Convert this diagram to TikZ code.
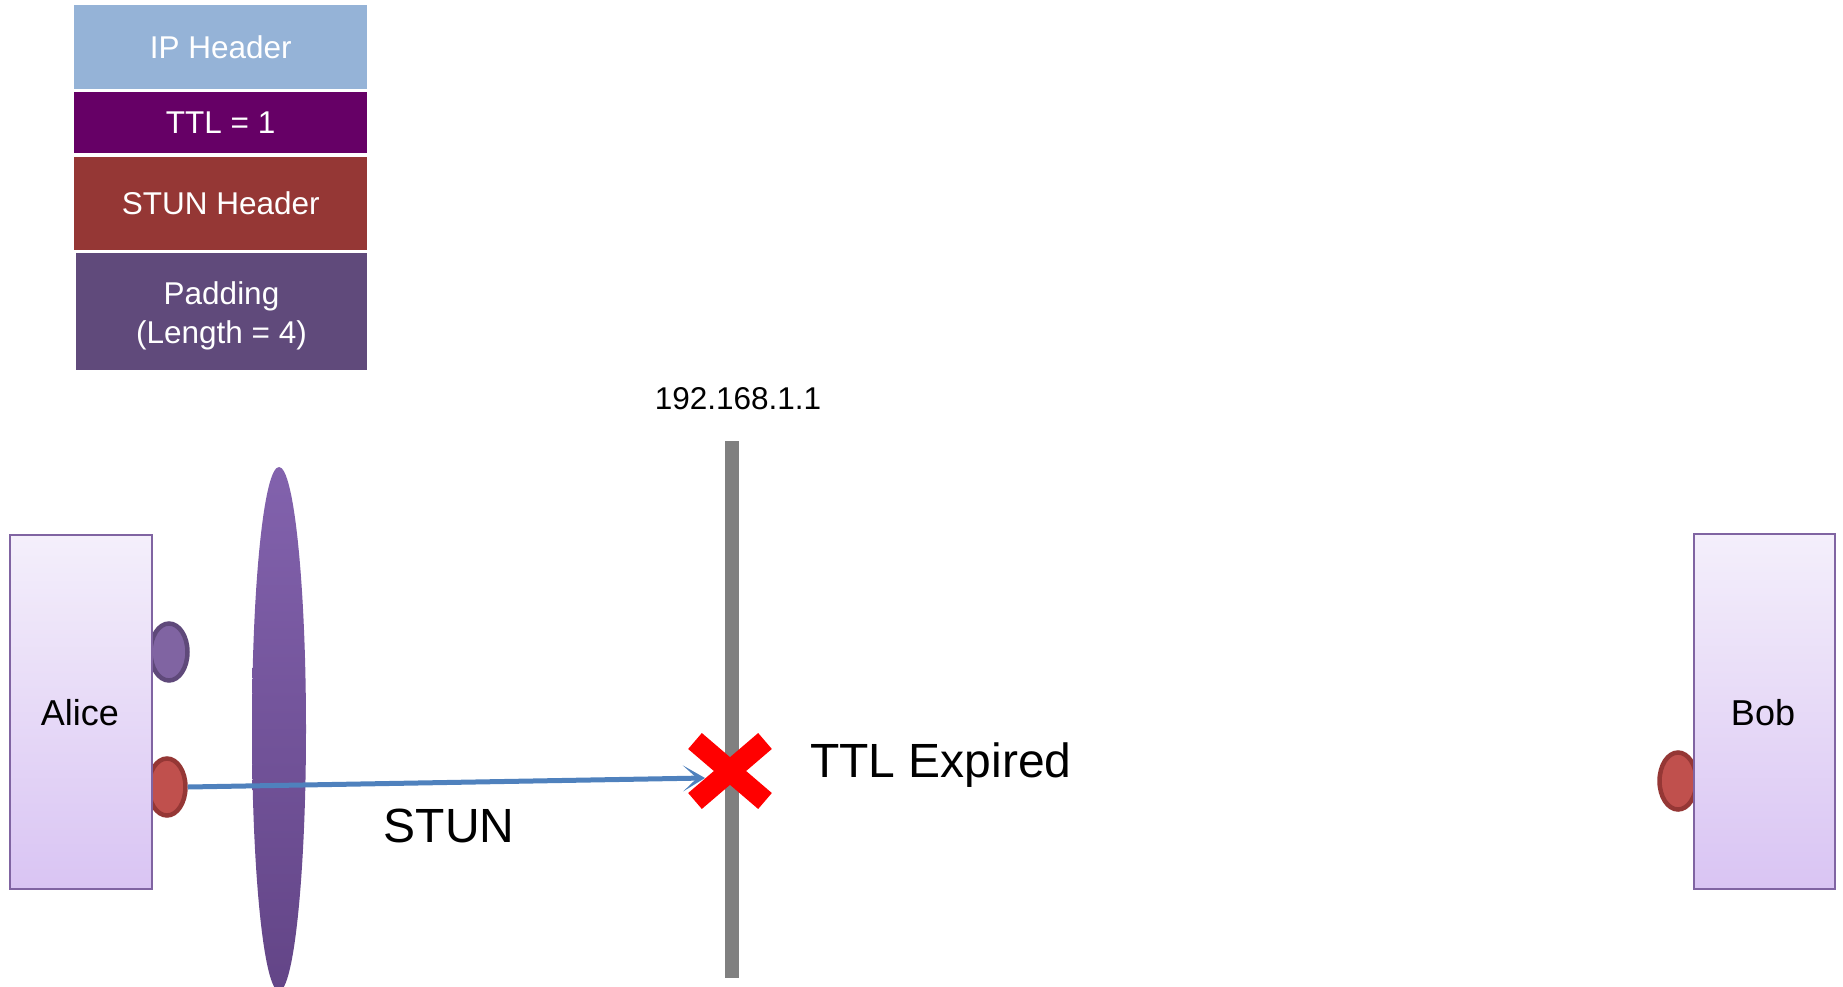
\documentclass[tikz,border=0pt]{standalone}
\usepackage{fontspec}
\setmainfont{Liberation Sans}
\usetikzlibrary{shapes.geometric,arrows.meta,calc}
\definecolor{ipblue}{HTML}{95B3D7}
\definecolor{ttlpurple}{HTML}{660066}
\definecolor{stunred}{HTML}{953735}
\definecolor{padpurple}{HTML}{604A7B}
\definecolor{hostborder}{HTML}{8064A2}
\definecolor{hosttop}{HTML}{F4EFFB}
\definecolor{hostbot}{HTML}{D9C4F3}
\definecolor{portpurple}{HTML}{8064A2}
\definecolor{portpurpleb}{HTML}{5F497A}
\definecolor{portred}{HTML}{C0504D}
\definecolor{portredb}{HTML}{953735}
\definecolor{arrowblue}{HTML}{4F81BD}
\definecolor{lenstop}{HTML}{8262AD}
\definecolor{lensbot}{HTML}{634587}
\definecolor{xred}{HTML}{FF0000}
\begin{document}
\begin{tikzpicture}[x=1pt,y=-1pt,
  hdr/.style={rectangle,inner sep=0,anchor=north west,text=white,align=center,
    font=\fontsize{31.5}{38}\selectfont},
  host/.style={rectangle,draw=hostborder,line width=1.5pt,top color=hosttop,bottom color=hostbot,
    inner sep=0,font=\fontsize{36}{40}\selectfont},
  port/.style={ellipse,inner sep=0,minimum width=37,minimum height=57,line width=4.5pt},
  lbl/.style={inner sep=0,font=\fontsize{48}{52}\selectfont}]
\useasboundingbox (0,0) rectangle (1843,987);
% header stack
\node[hdr,fill=ipblue,minimum width=293,minimum height=84] (ip) at (74,5) {\raisebox{-1pt}{IP Header}};
\node[hdr,fill=ttlpurple,minimum width=293,minimum height=61] (ttl) at (74,92) {\raisebox{-1pt}{TTL = 1}};
\node[hdr,fill=stunred,minimum width=293,minimum height=93] (stunh) at (74,157) {\raisebox{-1pt}{STUN Header}};
\node[hdr,fill=padpurple,minimum width=291,minimum height=117] (pad) at (76,253) {};
\node[inner sep=0,text=white,align=center,font=\fontsize{31.5}{39}\selectfont] (padtext) at (221.5,316) {Padding\\(Length = 4)};
% lens
\node[ellipse,inner sep=0,minimum width=54,minimum height=524,top color=lenstop,bottom color=lensbot] (lens) at (279,729) {};
% ports
\node[port,fill=portpurple,draw=portpurpleb] (aliceup) at (169,652) {};
\node[port,fill=portred,draw=portredb] (alicered) at (167,787) {};
\node[port,fill=portred,draw=portredb] (bobred) at (1678,781) {};
% hosts
\node[host,minimum width=142,minimum height=354] (alice) at (81,712) {};
\node[font=\fontsize{36}{40}\selectfont,inner sep=0] (alicel) at (80,713) {Alice};
\node[host,minimum width=141,minimum height=355] (bob) at (1764.5,711.5) {};
\node[font=\fontsize{36}{40}\selectfont,inner sep=0] (bobl) at (1763,713) {Bob};
% router
\node[rectangle,fill=black!50,inner sep=0,minimum width=14,minimum height=537,anchor=north] (router) at (732,441) {};
\node[inner sep=0,font=\fontsize{31.5}{36}\selectfont] (ipaddr) at (738,399) {192.168.1.1};
% arrow
\coordinate (hit) at (705,778);
\draw[arrowblue,line width=5pt,-{Stealth[length=22pt,width=26pt,inset=14pt]}] (alicered.east) -- (hit);
% cross
\coordinate (xc) at (730,771);
\draw[xred,line width=21pt] ($(xc)+(-35,-30)$) -- ($(xc)+(35,30)$);
\draw[xred,line width=21pt] ($(xc)+(-35,30)$) -- ($(xc)+(35,-30)$);
% labels
\node[lbl] (ttlexp) at (941,765) {TTL Expired};
\node[lbl] (stunl) at (449,826) {STUN};
\end{tikzpicture}
\end{document}
